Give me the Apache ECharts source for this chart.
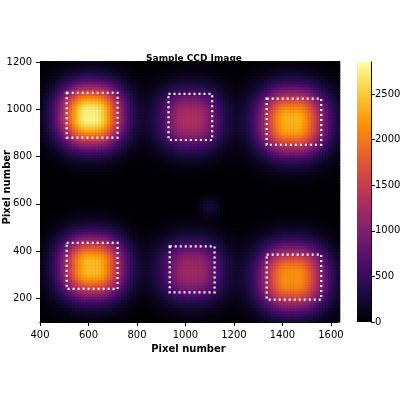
<!DOCTYPE html><html><head><meta charset="utf-8">
<script src="https://cdn.jsdelivr.net/npm/echarts@6/dist/echarts.min.js"></script>
<style>body{margin:0}#c{width:400px;height:400px}</style></head><body><div id="c"></div>
<script>
// spots: centre x, centre y, peak counts, spread
const spotX=[610,1020,1440,615,1025,1440,1100];
const spotY=[975,960,950,335,320,290,590];
const spotPeak=[2750,1300,2350,2400,1200,2150,250];
const spotSigma=[80,80,85,80,80,85,25];
// dotted boxes: x0,x1,y0,y1
const boxX0=[510,930,1335,510,935,1335];
const boxX1=[720,1110,1560,720,1120,1560];
const boxY0=[880,870,850,240,225,195];
const boxY1=[1070,1065,1045,435,420,385];
const xTicks=[400,600,800,1000,1200,1400,1600];
const yTicks=[200,400,600,800,1000,1200];
const cbarTicks=[0,500,1000,1500,2000,2500];
const cmax=2850;
const inferno=['#000004','#1b0c41','#4a0c6b','#781c6d','#a52c60','#cf4446','#ed6925','#fb9b06','#f7d13d','#fcffa4'];
const step=12;
const cells=[];
for(let x=400;x<1625;x+=step)for(let y=100;y<1200;y+=step){
  let v=0;const cx=x+step/2,cy=y+step/2;
  for(let i=0;i<spotX.length;i++){const s=spotSigma[i];
    const dx=Math.max(0,Math.abs(cx-spotX[i])-s*0.2),dy=Math.max(0,Math.abs(cy-spotY[i])-s*0.2);
    v+=spotPeak[i]*Math.exp(-(dx*dx+dy*dy)/(2*s*s));}
  cells.push([x,y,v]);
}
const boxes=boxX0.map((v,i)=>[v,boxY0[i],boxX1[i],boxY1[i]]);
const ch=echarts.init(document.getElementById('c'));
const tf={fontFamily:'DejaVu Sans',fontSize:10,color:'#000',formatter:v=>String(v)};
ch.setOption({
  animation:false,
  title:{text:'Sample CCD Image',left:189,top:49,textAlign:'center',textStyle:{fontFamily:'DejaVu Sans',fontSize:9,fontWeight:'bold',color:'#000'}},
  graphic:[{type:'text',left:2,top:150,rotation:Math.PI/2,style:{text:'Pixel number',font:'bold 10px DejaVu Sans',fill:'#000'}}],
  grid:[{left:40,right:63,top:62,bottom:78,backgroundColor:'#000004',show:true,borderWidth:0,outerBoundsMode:'none',containLabel:false},
        {left:357,right:29,top:62,bottom:78,outerBoundsMode:'none',containLabel:false}],
  visualMap:{show:false,min:0,max:cmax,seriesIndex:0,dimension:2,inRange:{color:inferno}},
  xAxis:[{type:'value',min:400,max:1625,gridIndex:0,
     axisLabel:Object.assign({customValues:xTicks},tf),axisTick:{customValues:xTicks,length:4},
     axisLine:{onZero:false,lineStyle:{color:'#000'}},splitLine:{show:false},
     name:'Pixel number',nameLocation:'middle',nameGap:20,nameTextStyle:{fontFamily:'DejaVu Sans',fontSize:10,fontWeight:'bold',color:'#000'}},
    {type:'category',gridIndex:1,data:['c'],show:false}],
  yAxis:[{type:'value',min:100,max:1200,gridIndex:0,
     axisLabel:Object.assign({customValues:yTicks},tf),axisTick:{show:true,customValues:yTicks,length:4},
     axisLine:{show:true,onZero:false,lineStyle:{color:'#000'}},splitLine:{show:false}},
    {type:'value',gridIndex:1,min:0,max:cmax,position:'right',
     axisLabel:Object.assign({customValues:cbarTicks,margin:4},tf),axisTick:{show:true,customValues:cbarTicks,length:4},
     axisLine:{show:true,lineStyle:{color:'#000'}},splitLine:{show:false}}],
  series:[
   {type:'custom',xAxisIndex:0,yAxisIndex:0,data:cells,encode:{x:0,y:1},
    renderItem:(p,api)=>{const a=api.coord([api.value(0),api.value(1)+step]);const b=api.coord([api.value(0)+step,api.value(1)]);
      return {type:'rect',shape:{x:a[0],y:a[1],width:b[0]-a[0]+0.6,height:b[1]-a[1]+0.6},style:{fill:api.visual('color')}};}},
   {type:'custom',xAxisIndex:0,yAxisIndex:0,data:boxes,encode:{x:[0,2],y:[1,3]},
    renderItem:(p,api)=>{const a=api.coord([api.value(0),api.value(3)]);const b=api.coord([api.value(2),api.value(1)]);
      return {type:'rect',shape:{x:a[0],y:a[1],width:b[0]-a[0],height:b[1]-a[1]},style:{fill:null,stroke:'#fff',lineWidth:2.2,lineDash:[2,3]}};}},
   {type:'bar',xAxisIndex:1,yAxisIndex:1,data:[cmax],barWidth:'100%',
    itemStyle:{color:new echarts.graphic.LinearGradient(0,1,0,0,inferno.map((c,i)=>({offset:i/(inferno.length-1),color:c})))}}
  ]
});
</script></body></html>
